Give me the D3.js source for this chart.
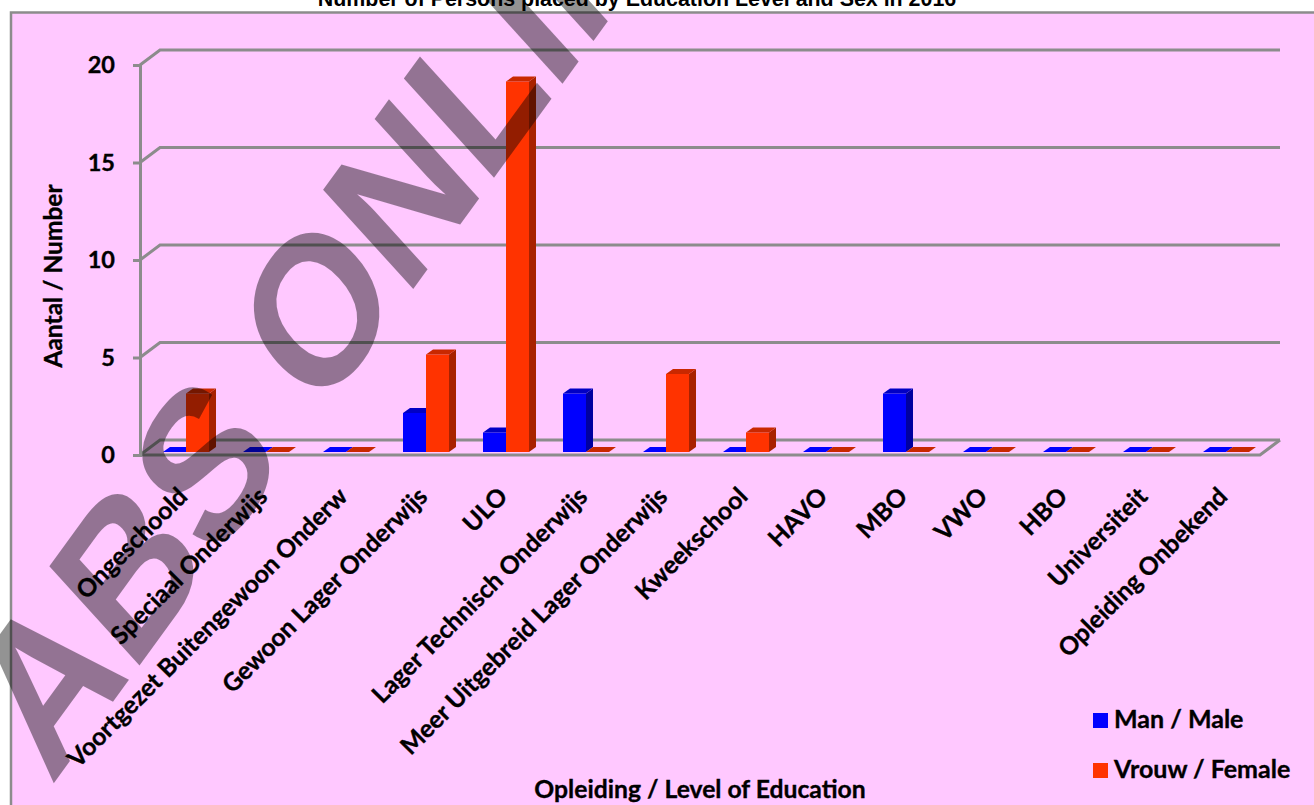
<!DOCTYPE html>
<html>
<head>
<meta charset="utf-8">
<script src="https://cdn.jsdelivr.net/npm/d3@7"></script>
<style>
html, body { margin: 0; padding: 0; background: #fff; overflow: hidden; }
svg { display: block; }
text { font-family: Lato, sans-serif; font-weight: 700; fill: #000; }
.heavy { stroke: #000; stroke-width: 0.35px; }
</style>
</head>
<body>
<svg width="1314" height="805"></svg>
<script>
var categories = ["Ongeschoold", "Speciaal Onderwijs", "Voortgezet Buitengewoon Onderw",
  "Gewoon Lager Onderwijs", "ULO", "Lager Technisch Onderwijs", "Meer Uitgebreid Lager Onderwijs",
  "Kweekschool", "HAVO", "MBO", "VWO", "HBO", "Universiteit", "Opleiding Onbekend"];
var male   = [0, 0, 0, 2, 1, 3, 0, 0, 0, 3, 0, 0, 0, 0];
var female = [3, 0, 0, 5, 19, 0, 4, 1, 0, 0, 0, 0, 0, 0];
var seriesNames = ["Man / Male", "Vrouw / Female"];
var yTicks = [0, 5, 10, 15, 20];

var colors = {
  "Man / Male":     {front: "#0000ff", top: "#0000c4", side: "#0000a0"},
  "Vrouw / Female": {front: "#ff3300", top: "#c92800", side: "#a82200"}
};

var svg = d3.select("svg");
var gridColor = "#8c8c8c";
var depthX = 20, depthY = -15;   // wall depth
var barDX = 7, barDY = -5;       // bar depth

var xScale = d3.scaleBand().domain(categories).range([146, 1266]);
var sexScale = d3.scaleBand().domain(seriesNames).range([17, 63]);
var yScale = d3.scaleLinear().domain([0, 20]).range([455, 65]);

// panel
svg.append("rect")
  .attr("x", 11).attr("y", 12.5)
  .attr("width", 1320).attr("height", 810)
  .attr("fill", "#ffc8ff")
  .attr("stroke", gridColor).attr("stroke-width", 2.5);

svg.append("text")
  .attr("x", 637).attr("y", 6)
  .attr("text-anchor", "middle")
  .style("font-family", "'Liberation Sans', sans-serif")
  .style("font-size", "21.4px")
  .text("Number of Persons placed by Education Level and Sex in 2016");

// back wall grid lines and the slanted bits to the axis
var grid = svg.append("g")
  .attr("fill", "none")
  .attr("stroke", gridColor)
  .attr("stroke-width", 3);

grid.selectAll("path")
  .data(yTicks)
  .enter().append("path")
  .attr("d", function(d) {
    var y = yScale(d);
    return "M140," + y + "L" + (140 + depthX) + "," + (y + depthY) + "H1280";
  });

// floor front edge
grid.append("path")
  .attr("d", "M140," + yScale(0) + "H1260L1280," + (yScale(0) + depthY));

// y axis
var yAxis = d3.axisLeft(yScale).tickValues(yTicks).tickSize(7).tickPadding(18);
var yG = svg.append("g")
  .attr("transform", "translate(140,0)")
  .call(yAxis);
yG.select(".domain").attr("stroke", gridColor).attr("stroke-width", 3);
yG.selectAll(".tick line").attr("stroke", gridColor).attr("stroke-width", 3);
yG.selectAll(".tick text")
  .attr("class", "heavy")
  .style("font-family", "Lato, sans-serif")
  .style("font-size", "23.5px")
  .style("font-weight", 700)
  .attr("fill", "#000");

// bars, back to front so the red one covers the blue side
var rows = [];
categories.forEach(function(c, i) {
  rows.push({cat: c, name: seriesNames[0], value: male[i]});
  rows.push({cat: c, name: seriesNames[1], value: female[i]});
});

var bars = svg.append("g").attr("transform", "translate(0,-3)");
var bar = bars.selectAll("g")
  .data(rows)
  .enter().append("g");

bar.each(function(d) {
  var g = d3.select(this);
  var x0 = xScale(d.cat) + sexScale(d.name);
  var x1 = x0 + sexScale.bandwidth();
  var y0 = yScale(0);
  var y1 = yScale(d.value);
  var c = colors[d.name];
  if (d.value > 0) {
    g.append("rect")
      .attr("x", x0).attr("y", y1)
      .attr("width", x1 - x0).attr("height", y0 - y1)
      .attr("fill", c.front);
    g.append("path")
      .attr("d", "M" + x1 + "," + y1 + "l" + barDX + "," + barDY + "V" + (y0 + barDY) + "L" + x1 + "," + y0 + "Z")
      .attr("fill", c.side);
  }
  g.append("path")
    .attr("d", "M" + x0 + "," + y1 + "l" + barDX + "," + barDY + "H" + (x1 + barDX) + "L" + x1 + "," + y1 + "Z")
    .attr("fill", d.value > 0 || d.name === seriesNames[1] ? c.top : c.front);
});

// category labels
svg.append("g").selectAll("text")
  .data(categories)
  .enter().append("text")
  .attr("class", "heavy")
  .attr("text-anchor", "end")
  .style("font-size", "24.7px")
  .attr("transform", function(d) {
    return "translate(" + (xScale(d) + xScale.bandwidth() / 2 + 3) + ",498) rotate(-45)";
  })
  .text(function(d) { return d; });

// axis titles
svg.append("text")
  .attr("class", "heavy")
  .attr("text-anchor", "middle")
  .attr("transform", "translate(62,276) rotate(-90)")
  .style("font-size", "24.5px")
  .text("Aantal / Number");

svg.append("text")
  .attr("class", "heavy")
  .attr("x", 700).attr("y", 798)
  .attr("text-anchor", "middle")
  .style("font-size", "24.7px")
  .text("Opleiding / Level of Education");

// legend
var legendY = d3.scalePoint().domain(seriesNames).range([720, 770]);
var legend = svg.append("g").selectAll("g")
  .data(seriesNames)
  .enter().append("g")
  .attr("transform", function(d) { return "translate(1093," + legendY(d) + ")"; });
legend.append("rect")
  .attr("y", -7).attr("width", 15).attr("height", 15)
  .attr("fill", function(d) { return colors[d].front; });
legend.append("text")
  .attr("class", "heavy")
  .attr("x", 21).attr("y", 8)
  .style("font-size", "25px")
  .text(function(d) { return d; });

// watermark laid over everything, skewed like the stretched original
svg.append("text")
  .attr("transform", "matrix(1.12,-1.54,1.31,1.44,51,787)")
  .style("font-family", "'Liberation Sans', sans-serif")
  .style("font-size", "100px")
  .style("font-weight", 700)
  .attr("opacity", 0.42)
  .text("ABS ONLINE");
</script>
</body>
</html>
